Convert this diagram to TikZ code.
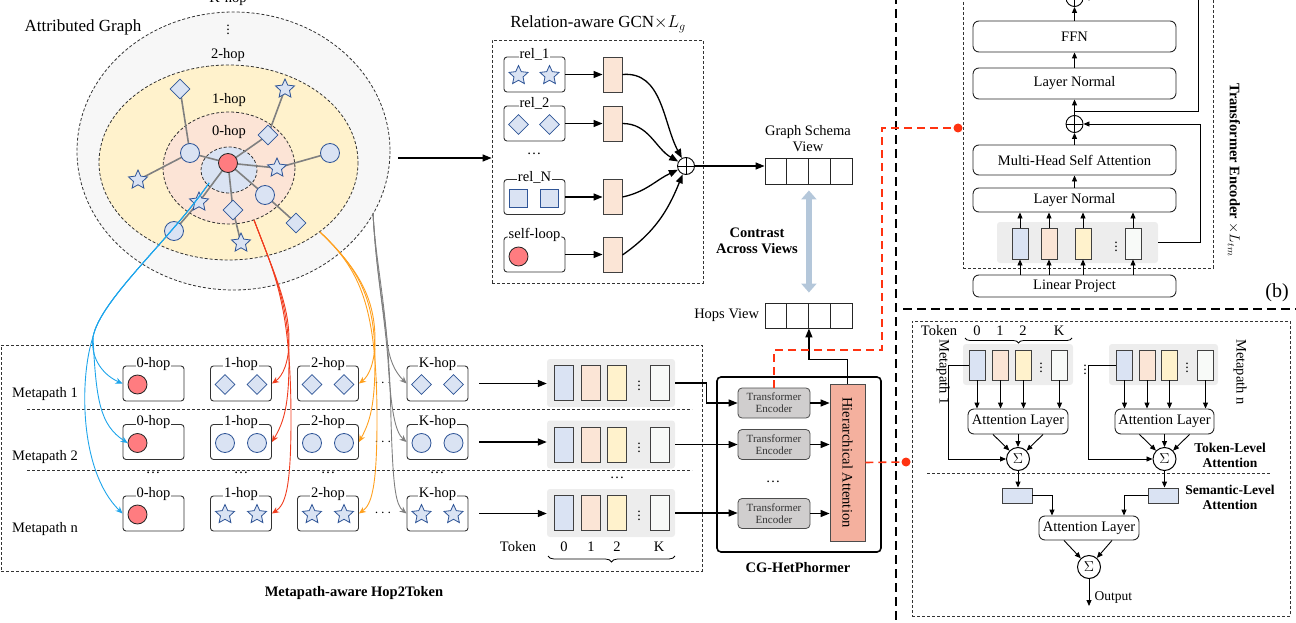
\documentclass[tikz,border=0pt]{standalone}
\usepackage{fontspec}
\setmainfont{Liberation Serif}
\usetikzlibrary{shapes.geometric,arrows.meta,calc,decorations.pathreplacing}
\pgfdeclarelayer{bg}
\pgfdeclarelayer{mid}
\pgfsetlayers{bg,mid,main}
\definecolor{nblue}{HTML}{DAE3F3}
\definecolor{nblued}{HTML}{2F5597}
\definecolor{nred}{HTML}{FF7C80}
\definecolor{peach}{HTML}{FBE5D6}
\definecolor{lyellow}{HTML}{FFF2CC}
\definecolor{offw}{HTML}{F8FAF8}
\definecolor{panelg}{HTML}{EDEDED}
\definecolor{outerg}{HTML}{F7F7F7}
\definecolor{hpink}{HTML}{FCE4D6}
\definecolor{salmon}{HTML}{F4B09E}
\definecolor{tegray}{HTML}{D0CECE}
\definecolor{cblue}{HTML}{B4C7DA}
\definecolor{ablue}{HTML}{1EA5EB}
\definecolor{ared}{HTML}{F03C1E}
\definecolor{aorange}{HTML}{FFA01E}
\definecolor{agray}{HTML}{7F7F7F}
\definecolor{dred}{HTML}{FF3311}
\begin{document}
\begin{tikzpicture}[x=1pt,y=-1pt,
  f/.style={font=\fontsize{14.5}{16}\selectfont},
  fb/.style={font=\fontsize{14.5}{16}\selectfont\bfseries},
  vd/.style={font=\fontsize{14}{16}\selectfont, inner sep=0},
  thindash/.style={draw=black!80, line width=0.8, dash pattern=on 3pt off 2pt},
  sepdash/.style={draw=black, line width=1.6, dash pattern=on 9pt off 5pt},
  reddash/.style={draw=dred, line width=1.6, dash pattern=on 8pt off 5pt},
  cnode/.style={circle, draw=nblued, fill=nblue, minimum size=19, inner sep=0, line width=0.8},
  snode/.style={star, star points=5, star point ratio=2.1, draw=nblued, fill=nblue, minimum size=20, inner sep=0, line width=0.8},
  dnode/.style={diamond, draw=nblued, fill=nblue, minimum size=20, inner sep=0, line width=0.8},
  qnode/.style={rectangle, draw=nblued, fill=nblue, minimum size=18, inner sep=0, line width=0.8},
  rnode/.style={circle, draw=black!85, fill=nred, minimum size=19, inner sep=0, line width=0.8},
  gedge/.style={draw=gray, line width=1.6},
  hopbox/.style={draw=black!80, rounded corners=3, line width=0.9, minimum width=61, minimum height=35, inner sep=0},
  boxlbl/.style={fill=white, inner sep=0.6, f},
  bar/.style={draw=black!75, line width=0.9, minimum width=19, minimum height=35, inner sep=0},
  sbar/.style={draw=black!75, line width=0.9, minimum width=16, minimum height=31, inner sep=0},
  panel/.style={fill=panelg, rounded corners=3, inner sep=0},
  tbox/.style={draw=black!85, rounded corners=6, line width=0.9, inner sep=0, f},
  tebox/.style={draw=black!70, fill=tegray, rounded corners=4, line width=0.8, minimum width=72, minimum height=30, inner sep=0, align=center, text=black!80, font=\fontsize{11}{12}\selectfont},
  oplus/.style={circle, draw=black, line width=0.9, minimum size=17, inner sep=0,
    path picture={\draw[line width=0.9] (path picture bounding box.north) -- (path picture bounding box.south) (path picture bounding box.west) -- (path picture bounding box.east);}},
  sigma/.style={circle, draw=black, line width=1, minimum size=23, inner sep=0, font=\fontsize{15}{16}\selectfont},
  arr/.style={draw=black, line width=1.3, -{Triangle[length=9pt,width=7pt]}},
  sarr/.style={draw=black, line width=0.9, -{Triangle[length=6pt,width=5pt]}},
  carr/.style={line width=0.9, -{Stealth[length=7pt,width=6pt]}},
  reddot/.style={circle, fill=dred, minimum size=9, inner sep=0},
]
\useasboundingbox (0,0) rectangle (1296,623);
\clip (0,0) rectangle (1296,623);

%================ Attributed graph =================
\begin{pgfonlayer}{bg}
\draw[thindash, fill=outerg] (233.5,151) ellipse [x radius=156.5, y radius=139];
\draw[thindash, fill=lyellow] (228.5,162.5) ellipse [x radius=129.5, y radius=97.5];
\draw[thindash, fill=hpink] (229,168) ellipse [x radius=66, y radius=56];
\draw[thindash, fill=nblue] (229,170) ellipse [x radius=28, y radius=23];
\end{pgfonlayer}
\node[font=\fontsize{17}{19}\selectfont] (agl) at (83,27) {Attributed Graph};
\node[f] (lkh) at (228,-1) {K-hop};
\node[vd] (lvd) at (228,27) {$\vdots$};
\node[f] (l2h) at (228,55) {2-hop};
\node[f] (l1h) at (229,100) {1-hop};
\node[f] (l0h) at (229,132) {0-hop};

\node[rnode] (g0) at (228,163) {};
\node[cnode] (ga) at (190,153) {};
\node[dnode] (gb) at (180,89) {};
\node[snode] (gc) at (138,180) {};
\node[dnode] (gd) at (268,135) {};
\node[snode] (ge) at (285,89) {};
\node[snode] (gf) at (277,168) {};
\node[cnode] (gg) at (330,153) {};
\node[snode] (gh) at (199,202) {};
\node[cnode] (gi) at (174,231) {};
\node[dnode] (gj) at (233,210) {};
\node[snode] (gk) at (241,243) {};
\node[cnode] (gl) at (265,195) {};
\node[dnode] (gm) at (296,223) {};
\begin{pgfonlayer}{mid}
\draw[gedge] (g0.center) -- (ga.center) (ga.center) -- (gb.center) (ga.center) -- (gc.center)
  (g0.center) -- (gd.center) (gd.center) -- (ge.center)
  (g0.center) -- (gf.center) (gf.center) -- (gg.center)
  (g0.center) -- (gh.center) (gh.center) -- (gi.center)
  (g0.center) -- (gj.center) (gj.center) -- (gk.center)
  (g0.center) -- (gl.center) (gl.center) -- (gm.center);
\end{pgfonlayer}

%================ Relation-aware GCN =================
\node[thindash, minimum width=211, minimum height=243, inner sep=0] (gcn) at (597.5,161.5) {};
\node[font=\fontsize{17}{19}\selectfont] (gcnt) at (598,24) {Relation-aware GCN$\times L_g$};
\coordinate (gin) at (398,158);
\draw[arr] (gin) -- (gin -| gcn.west);

\node[hopbox] (rb1) at (534.5,74.5) {};
\node[hopbox] (rb2) at (534.5,123.5) {};
\node[hopbox] (rb3) at (534.5,197) {};
\node[hopbox] (rb4) at (534.5,254.5) {};
\node[boxlbl] (rl1) at ([yshift=2pt]rb1.north) {rel\_1};
\node[boxlbl] (rl2) at ([yshift=2pt]rb2.north) {rel\_2};
\node[boxlbl] (rl3) at ([yshift=2pt]rb3.north) {rel\_N};
\node[boxlbl] (rl4) at ([yshift=2pt]rb4.north) {self-loop};
\node[snode] (rs1) at ($(rb1)+(-16,1)$) {};
\node[snode] (rs2) at ($(rb1)+(15,1)$) {};
\node[dnode] (rd1a) at ($(rb2)+(-16,1)$) {};
\node[dnode] (rd2a) at ($(rb2)+(15,1)$) {};
\node[qnode] (rq1) at ($(rb3)+(-16,1)$) {};
\node[qnode] (rq2) at ($(rb3)+(15,1)$) {};
\node[rnode] (rr1) at ($(rb4)+(-16,2)$) {};
\node[f] (rdots) at (534,154) {\ldots};
\node[bar, fill=peach] (pr1) at (612.5,74.5) {};
\node[bar, fill=peach] (pr2) at (612.5,123.5) {};
\node[bar, fill=peach] (pr3) at (612.5,197) {};
\node[bar, fill=peach] (pr4) at (612.5,255) {};
\foreach \i in {1,2,3,4}{\draw[arr] (rb\i.east) -- (rb\i.east -| pr\i.west);}
\node[oplus] (plus) at (686,166) {};
\draw[arr] (pr1.east) to[out=5,in=118] (plus);
\draw[arr] (pr2.east) to[out=0,in=150] (plus);
\draw[arr] (pr3.east) to[out=12,in=-155] (plus);
\draw[arr] (pr4.east) to[out=35,in=-112] (plus);

%================ Views =================
\foreach \i/\x in {1/775.9,2/797.6,3/819.4,4/841.1}{
  \node[draw=black!85, line width=0.9, minimum width=21.75, minimum height=26, inner sep=0] (gs\i) at (\x,171) {};
  \node[draw=black!85, line width=0.9, minimum width=21.75, minimum height=25, inner sep=0] (hv\i) at (\x,315.5) {};
}
\draw[arr] (plus.east) -- (plus.east -| gs1.west);
\node[f, align=center] (gst) at (808,139) {Graph Schema\\View};
\node[f, anchor=east] (hvt) at ([xshift=-2pt]hv1.west) {Hops View};
\draw[cblue, line width=6, shorten <=6pt, shorten >=10pt, {Triangle[length=9pt,width=15pt]}-{Triangle[length=9pt,width=15pt]}] (gs2.south east) -- (hv2.north east);
\node[fb, align=center] (cav) at (757,241) {Contrast\\Across Views};

%================ Metapath-aware Hop2Token =================
\node[thindash, minimum width=701, minimum height=226, inner sep=0] (mpb) at (351.5,458) {};
\draw[thindash] (27,409) -- (692,409);
\draw[thindash] (27,470) -- (692,470);
\node[f] (mp1) at (45,394) {Metapath 1};
\node[f] (mp2) at (45,457) {Metapath 2};
\node[f] (mp3) at (45,529) {Metapath n};
\foreach \r/\y in {1/383.5, 2/442, 3/513.5}{
  \foreach \c/\x/\t in {0/153.5/0, 1/241/1, 2/328/2, k/437.5/K}{
    \node[hopbox] (h\c\r) at (\x,\y) {};
    \node[boxlbl] (hl\c\r) at ([yshift=2pt]h\c\r.north) {\t-hop};
  }
  \node[rnode] (c0\r) at ($(h0\r)+(-16,1)$) {};
  \node[font=\fontsize{14}{16}\selectfont\bfseries, inner sep=0] (cd\r) at (383,\y) {$\cdots$};
}
\foreach \c in {1,2,k}{
  \node[dnode] (da\c) at ($(h\c1)+(-16,1)$) {};
  \node[dnode] (db\c) at ($(h\c1)+(16,1)$) {};
  \node[cnode] (ca\c) at ($(h\c2)+(-16,1)$) {};
  \node[cnode] (cb\c) at ($(h\c2)+(16,1)$) {};
  \node[snode] (sa\c) at ($(h\c3)+(-16,1)$) {};
  \node[snode] (sb\c) at ($(h\c3)+(16,1)$) {};
}
\foreach \x/\n in {153/a,241/b,328/c,437/d}{\node[f, inner sep=0] (rdt\n) at (\x,473) {\ldots};}

\foreach \r/\y in {1/383,2/444.5,3/513}{
  \node[panel, minimum width=128, minimum height=48] (p\r) at (611,\y) {};
  \node[bar, fill=nblue] (bA\r) at (563.5,\y) {};
  \node[bar, fill=peach] (bB\r) at (590.5,\y) {};
  \node[bar, fill=lyellow] (bC\r) at (617,\y) {};
  \node[bar, fill=offw] (bD\r) at (659.5,\y) {};
  \node[vd] (vd\r) at (639,\y) {$\vdots$};
  \draw[arr, shorten <=11pt] (hk\r.east) -- (hk\r.east -| p\r.west);
}
\node[f, inner sep=0] (pdots) at (617,478) {\ldots};
\node[f] (tokl) at (518,547) {Token};
\node[f] (t0) at (564,547) {0};
\node[f] (t1) at (591,547) {1};
\node[f] (t2) at (617,547) {2};
\node[f] (tK) at (659,547) {K};
\draw[line width=0.8, decorate, decoration={brace, mirror, amplitude=6pt}] (548,556) -- (675,556);
\node[fb] (mpt) at (354,593) {Metapath-aware Hop2Token};

% coloured curves
\coordinate (cb) at (209,183);
\coordinate (cbm) at (93,337);
\coordinate (cr) at (254,220);
\coordinate (co) at (320,232);
\coordinate (cg) at (373,213);
\draw[carr, ablue] (cb) .. controls (170,240) and (100,300) .. (cbm) .. controls (90,360) and (105,376) .. (h01.west);
\draw[carr, ablue] (cb) .. controls (170,240) and (100,300) .. (cbm) .. controls (96,400) and (100,425) .. (c02.west);
\draw[carr, ablue] (cb) .. controls (170,240) and (100,300) .. (cbm) .. controls (80,375) and (78,470) .. (h03.west);
\draw[carr, ared] (cr) .. controls (275,275) and (289,305) .. (289,340) .. controls (289,362) and (283,376) .. (h11.east);
\draw[carr, ared] (cr) .. controls (275,275) and (289,305) .. (289,360) .. controls (289,405) and (284,422) .. (h12.east);
\draw[carr, ared] (cr) .. controls (275,275) and (291,305) .. (291,420) .. controls (291,490) and (285,505) .. (h13.east);
\draw[carr, aorange] (co) .. controls (360,270) and (375,300) .. (375,340) .. controls (375,362) and (369,376) .. (h21.east);
\draw[carr, aorange] (co) .. controls (360,270) and (375,300) .. (375,360) .. controls (375,405) and (370,422) .. (h22.east);
\draw[carr, aorange] (co) .. controls (360,270) and (377,305) .. (377,420) .. controls (377,490) and (371,505) .. (h23.east);
\draw[carr, agray] (cg) .. controls (376,270) and (384,310) .. (387,340) .. controls (389,360) and (395,372) .. (hk1.west);
\draw[carr, agray] (cg) .. controls (376,270) and (384,310) .. (388,360) .. controls (391,410) and (395,432) .. (hk2.west);
\draw[carr, agray] (cg) .. controls (376,270) and (389,310) .. (391,420) .. controls (393,490) and (396,505) .. (hk3.west);

%================ CG-HetPhormer =================
\node[draw=black, line width=1.6, rounded corners=4, minimum width=164, minimum height=175, inner sep=0] (cgb) at (799,464.5) {};
\node[fb] (cgt) at (798,568) {CG-HetPhormer};
\node[tebox] (te1) at (774,403) {Transformer\\Encoder};
\node[tebox] (te2) at (774,444.5) {Transformer\\Encoder};
\node[tebox] (te3) at (774,513.5) {Transformer\\Encoder};
\node[f, inner sep=0] (tedots) at (773,482) {\ldots};
\node[draw=black!70, fill=salmon, line width=0.8, minimum width=35, minimum height=157, inner sep=0] (ha) at (847.5,462.5) {};
\node[f, rotate=-90] (hat) at (ha) {Hierarchical Attention};
\draw[arr] (p1.east) -- ++(31,0) |- (te1.west);
\draw[arr] (p2.east) -- (p2.east -| te2.west);
\draw[arr] (p3.east) -- (p3.east -| te3.west);
\foreach \i in {1,2,3}{\draw[arr] (te\i.east) -- (te\i.east -| ha.west);}
\draw[arr] (ha.north) -- ++(0,-24) -| (hv2.south east);

%================ separators and red links =================
\draw[sepdash] (896,-5) -- (896,630);
\draw[sepdash] (903,309) -- (1300,309);
\node[reddot] (rd1) at (958,128) {};
\node[reddot] (rd2) at (906,462) {};
\coordinate (rda) at (882,350);
\draw[reddash] (te1.north) |- (rda) |- (rd1);
\draw[reddash] (ha.east) -- (rd2);

%================ Transformer Encoder =================
\node[thindash, minimum width=250, minimum height=278, inner sep=0] (teb) at (1088,129) {};
\node[tbox, minimum width=203, minimum height=31] (ffn) at (1074.5,36.5) {FFN};
\node[tbox, minimum width=203, minimum height=31] (ln2) at (1074.5,83.5) {Layer Normal};
\node[oplus] (op2) at (1074.5,124) {};
\node[oplus] (op3) at (1074.5,-2) {};
\node[tbox, minimum width=203, minimum height=30] (mhsa) at (1074.5,160) {Multi-Head Self Attention};
\node[tbox, minimum width=203, minimum height=24] (ln1) at (1074.5,200) {Layer Normal};
\node[panel, minimum width=161, minimum height=41] (tp) at (1077.5,242.5) {};
\node[sbar, fill=nblue] (tb1) at (1020,243.5) {};
\node[sbar, fill=peach] (tb2) at (1049,243.5) {};
\node[sbar, fill=lyellow] (tb3) at (1083,243.5) {};
\node[sbar, fill=offw] (tb4) at (1133,243.5) {};
\node[vd] (tvd) at (1116,243.5) {$\vdots$};
\node[tbox, minimum width=203, minimum height=22] (lp) at (1074.5,286) {Linear Project};
\foreach \b in {tb1,tb2,tb3,tb4}{
  \draw[sarr] (lp.north -| \b) -- (\b.south);
  \draw[sarr] (\b.north) -- (\b.north |- ln1.south);
}
\draw[sarr] (ln1) -- (mhsa);
\draw[sarr] (mhsa) -- (op2);
\draw[sarr] (op2) -- (ln2);
\draw[sarr] (ln2) -- (ffn);
\draw[sarr] (ffn) -- (op3);
\draw[sarr] (tp.east) -- ++(42,0) |- (op2.east);
\coordinate (rs) at (1074.5,111);
\draw[sarr] (rs) -- (1198,111) |- (op3.east);
\node[rotate=-90, f] (tet) at (1234,170) {\textbf{Transformer Encoder} $\times L_{tm}$};
\node[font=\fontsize{20}{22}\selectfont] (bl) at (1277,293) {(b)};

%================ Hierarchical attention detail =================
\node[thindash, minimum width=378, minimum height=295, inner sep=0] (hab) at (1101,468.5) {};
\node[f] (tok2) at (939,331) {Token};
\node[f] (u0) at (977,331) {0};
\node[f] (u1) at (1000,331) {1};
\node[f] (u2) at (1023,331) {2};
\node[f] (uK) at (1059,331) {K};
\draw[line width=0.8, decorate, decoration={brace, mirror, amplitude=5pt}] (965,338) -- (1072,338);
\node[panel, minimum width=110, minimum height=41] (q1) at (1018,364.5) {};
\node[panel, minimum width=109, minimum height=41] (q2) at (1163.5,364.5) {};
\node[sbar, fill=nblue, minimum height=30] (qa1) at (977,365) {};
\node[sbar, fill=peach, minimum height=30] (qb1) at (1000.5,365) {};
\node[sbar, fill=lyellow, minimum height=30] (qc1) at (1023.5,365) {};
\node[sbar, fill=offw, minimum height=30] (qd1) at (1059.5,365) {};
\node[sbar, fill=nblue, minimum height=30] (qa2) at (1124.5,365) {};
\node[sbar, fill=peach, minimum height=30] (qb2) at (1147,365) {};
\node[sbar, fill=lyellow, minimum height=30] (qc2) at (1169.5,365) {};
\node[sbar, fill=offw, minimum height=30] (qd2) at (1205.5,365) {};
\node[vd] (qv1) at (1041,365) {$\vdots$};
\node[vd] (qv2) at (1187,365) {$\vdots$};
\node[vd] (qv3) at (1085,367) {$\vdots$};
\node[f, rotate=-90] (mq1) at (943,372) {Metapath 1};
\node[f, rotate=-90] (mq2) at (1240,372) {Metapath n};
\node[tbox, minimum width=100, minimum height=25] (al1) at (1018,421.5) {Attention Layer};
\node[tbox, minimum width=99, minimum height=25] (al2) at (1164.5,421.5) {Attention Layer};
\foreach \b/\a in {qa1/al1,qb1/al1,qc1/al1,qd1/al1,qa2/al2,qb2/al2,qc2/al2,qd2/al2}{
  \draw[sarr] (\b.south) -- (\b.south |- \a.north);
}
\node[sigma] (s1) at (1018,459) {$\Sigma$};
\node[sigma] (s2) at (1164.5,459) {$\Sigma$};
\foreach \a/\s in {al1/s1,al2/s2}{
  \draw[sarr] ([xshift=-25pt]\a.south) -- (\s);
  \draw[sarr] (\a.south) -- (\s);
  \draw[sarr] ([xshift=25pt]\a.south) -- (\s);
}
\draw[sarr] (qa1.west) -- ++(-20,0) |- (s1.west);
\draw[sarr] (qa2.west) -- ++(-28,0) |- (s2.west);
\node[align=center, font=\fontsize{13.5}{15}\selectfont\bfseries] (tla) at (1230,455) {Token-Level\\Attention};
\draw[thindash] (927,473) -- (1271,473);
\node[draw=black!75, fill=nblue, line width=0.9, minimum width=30, minimum height=15, inner sep=0] (sr1) at (1017,495.5) {};
\node[draw=black!75, fill=nblue, line width=0.9, minimum width=30, minimum height=15, inner sep=0] (sr2) at (1163,495.5) {};
\draw[sarr] (s1) -- (s1 |- sr1.north);
\draw[sarr] (s2) -- (s2 |- sr2.north);
\node[align=center, font=\fontsize{13.5}{15}\selectfont\bfseries] (sla) at (1230,497) {Semantic-Level\\Attention};
\node[tbox, minimum width=100, minimum height=24] (al3) at (1089,528) {Attention Layer};
\draw[sarr] (sr1.east) -| ([xshift=-37pt]al3.north);
\draw[sarr] (sr2.west) -| ([xshift=35pt]al3.north);
\node[sigma] (s3) at (1089,567) {$\Sigma$};
\draw[sarr] ([xshift=-25pt]al3.south) -- (s3);
\draw[sarr] ([xshift=23pt]al3.south) -- (s3);
\coordinate (outp) at (1089,606);
\draw[sarr] (s3) -- (outp);
\node[anchor=west, font=\fontsize{13.5}{15}\selectfont] (outt) at (1091,597) {Output};
\end{tikzpicture}
\end{document}
